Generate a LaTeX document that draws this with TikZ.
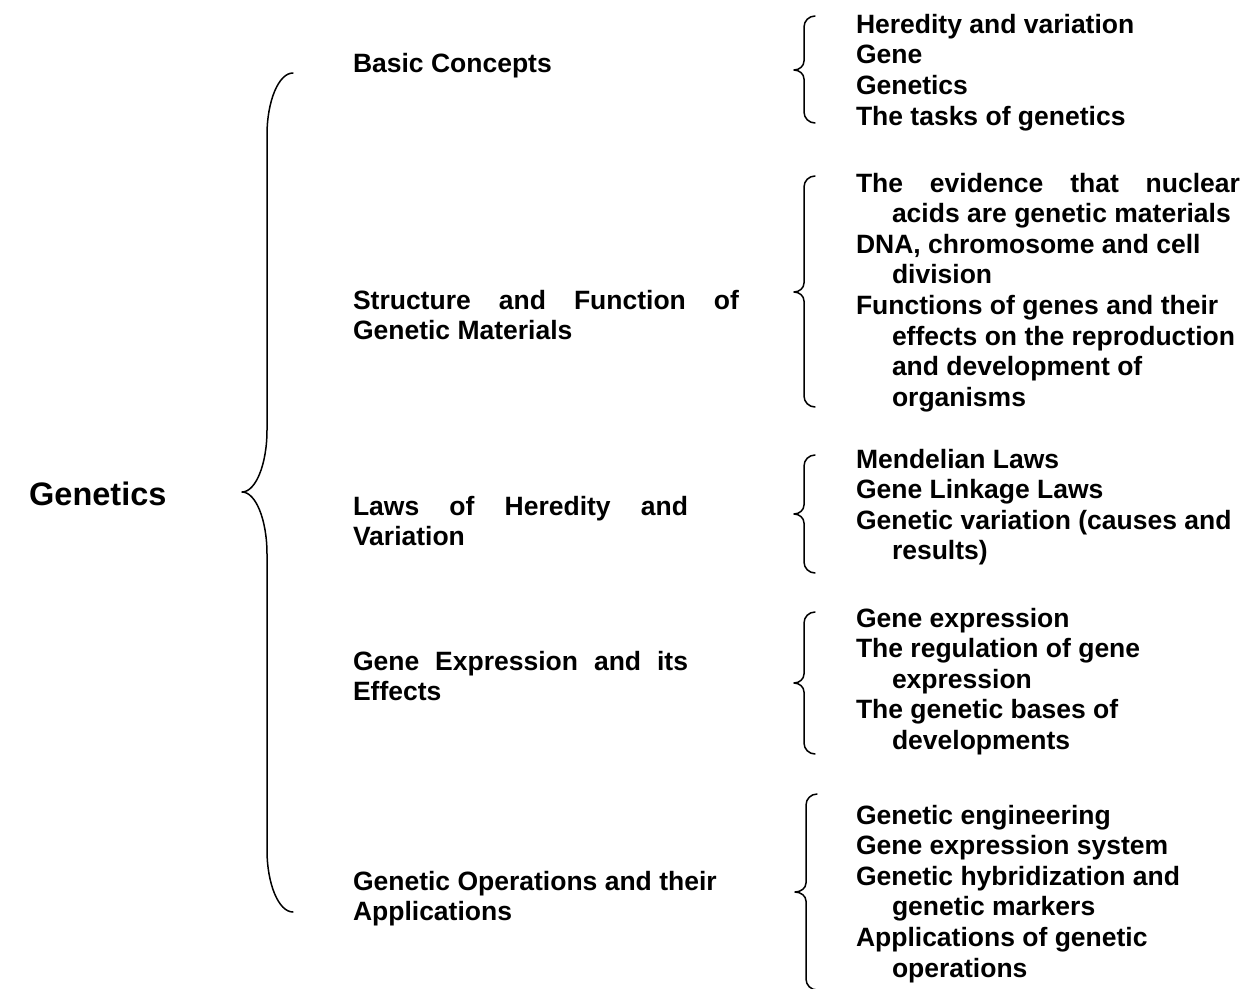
\documentclass[tikz,border=0pt]{standalone}
\usepackage{fontspec}
\setmainfont{Liberation Sans}
\usetikzlibrary{positioning}

% curly bracket: tip x, stem x, cusp x, top y, cusp y, bottom y, end bend, cusp bend
\newcommand\curlybracket[8]{%
  \draw[bracketline]
    (#1,#4) .. controls ({#2+0.45*(#1-#2)},#4) and (#2,{#4+0.45*#7}) .. (#2,{#4+#7})
    -- (#2,{#5-#8})
    .. controls (#2,{#5-0.45*#8}) and ({#2-0.45*(#2-#3)},#5) .. (#3,#5)
    .. controls ({#2-0.45*(#2-#3)},#5) and (#2,{#5+0.45*#8}) .. (#2,{#5+#8})
    -- (#2,{#6-#7})
    .. controls (#2,{#6-0.45*#7}) and ({#2+0.45*(#1-#2)},#6) .. (#1,#6);}

\newcommand\ind{\hspace*{36pt}}

\tikzset{
  bracketline/.style={line width=1.5pt, line cap=round, line join=round},
  textblock/.style={anchor=base west, inner sep=0pt, outer sep=0pt,
    font=\bfseries\fontsize{26.5}{30.6}\selectfont},
  rootlabel/.style={anchor=base west, inner sep=0pt,
    font=\bfseries\fontsize{32.5}{38}\selectfont}
}

\begin{document}
\begin{tikzpicture}[x=1pt,y=-1pt]
\useasboundingbox (0,0) rectangle (1250,988);

% root
\node[rootlabel] (root) at (29,505) {Genetics};
\curlybracket{293}{267}{242}{73}{492}{912}{62}{62}

% chapters
\node[textblock] (basic) at (353,72) {Basic Concepts};
\node[textblock] (struct) at (353,309) {\parbox[t]{400pt}{%
  \makebox[386pt][s]{Structure and Function of}\\Genetic Materials}};
\node[textblock] (laws) at (353,515) {\parbox[t]{400pt}{%
  \makebox[335pt][s]{Laws of Heredity and}\\Variation}};
\node[textblock] (expr) at (353,670) {\parbox[t]{400pt}{%
  \makebox[335pt][s]{Gene Expression and its}\\Effects}};
\node[textblock] (ops) at (353,890) {\parbox[t]{400pt}{%
  Genetic Operations and their\\Applications}};

% topics
\curlybracket{815}{804}{794}{16}{70}{123}{11}{9}
\node[textblock] (t1) at (856,33.3) {\parbox[t]{400pt}{%
  Heredity and variation\\Gene\\Genetics\\The tasks of genetics}};

\curlybracket{815}{804}{794}{176}{292}{407}{11}{9}
\node[textblock] (t2) at (856,192) {\parbox[t]{400pt}{%
  \makebox[384pt][s]{The evidence that nuclear}\\
  \ind acids are genetic materials\\
  DNA, chromosome and cell\\
  \ind division\\
  Functions of genes and their\\
  \ind effects on the reproduction\\
  \ind and development of\\
  \ind organisms}};

\curlybracket{815}{804}{794}{455}{514}{573}{11}{9}
\node[textblock] (t3) at (856,468) {\parbox[t]{400pt}{%
  Mendelian Laws\\Gene Linkage Laws\\Genetic variation (causes and\\
  \ind results)}};

\curlybracket{815}{804}{794}{612}{683}{754}{11}{9}
\node[textblock] (t4) at (856,627) {\parbox[t]{400pt}{%
  Gene expression\\The regulation of gene\\\ind expression\\
  The genetic bases of\\\ind developments}};

\curlybracket{817}{806}{795}{794}{892}{990}{11}{9}
\node[textblock] (t5) at (856,824) {\parbox[t]{400pt}{%
  Genetic engineering\\Gene expression system\\Genetic hybridization and\\
  \ind genetic markers\\Applications of genetic\\\ind operations}};
\end{tikzpicture}
\end{document}
